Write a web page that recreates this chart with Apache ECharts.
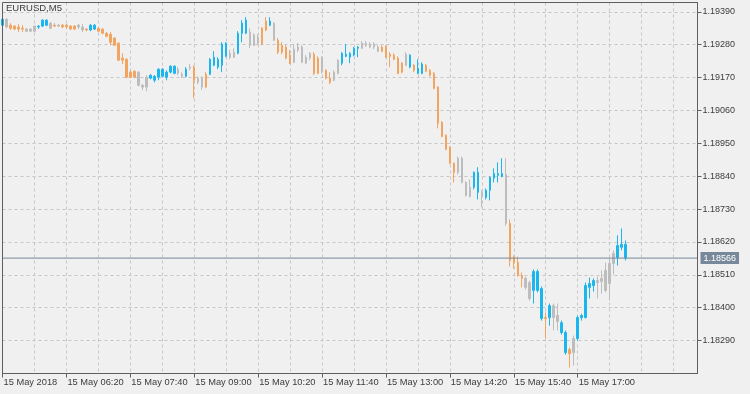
<!DOCTYPE html>
<html>
<head>
<meta charset="utf-8">
<script src="https://cdn.jsdelivr.net/npm/echarts@6/dist/echarts.min.js"></script>
<style>
html,body{margin:0;padding:0;background:#f0f0f0;}
#c{width:750px;height:394px;}
</style>
</head>
<body>
<div id="c"></div>
<script>
// ---- data (EURUSD M5, 15 May 2018, 05:00 .. 18:00) ----
const symbolTitle = 'EURUSD,M5';
const startTime = '05:00';
const barMinutes = 5;
const axisSlots = 175;

const tickTimes = ['05:00','06:20','07:40','09:00','10:20','11:40','13:00','14:20','15:40','17:00'];
const tickTexts = ['15 May 2018','15 May 06:20','15 May 07:40','15 May 09:00','15 May 10:20','15 May 11:40','15 May 13:00','15 May 14:20','15 May 15:40','15 May 17:00'];

const opens = [
1.19345,1.19365,1.19335,1.19342,1.19332,1.19335,1.19332,1.19325,1.19325,1.19342,
1.19342,1.19362,1.19352,1.19342,1.19345,1.19345,1.19339,1.19342,1.19332,1.19345,
1.19339,1.19329,1.19329,1.19345,1.19335,1.19332,1.19318,1.19315,1.19302,1.19285,
1.19228,1.19231,1.19171,1.19191,1.19188,1.19144,1.19138,1.19168,1.19174,1.19171,
1.19198,1.19171,1.19188,1.19208,1.19184,1.19181,1.19174,1.19201,1.19205,1.19154,
1.19168,1.19138,1.19181,1.19238,1.19205,1.19211,1.19285,1.19238,1.19255,1.19251,
1.19318,1.19362,1.19322,1.19278,1.19305,1.19282,1.19329,1.19359,1.19352,1.19295,
1.19255,1.19272,1.19245,1.19221,1.19262,1.19272,1.19218,1.19235,1.19248,1.19184,
1.19235,1.19194,1.19168,1.19161,1.19184,1.19218,1.19248,1.19238,1.19245,1.19268,
1.19268,1.19285,1.19282,1.19272,1.19272,1.19258,1.19272,1.19241,1.19245,1.19235,
1.19188,1.19211,1.19245,1.19211,1.19201,1.19184,1.19211,1.19194,1.19184,1.19138,
1.19020,1.18977,1.18937,1.18883,1.18853,1.18900,1.18819,1.18772,1.18803,1.18853,
1.18786,1.18769,1.18793,1.18833,1.18849,1.18839,1.18846,1.18682,1.18568,1.18551,
1.18508,1.18498,1.18484,1.18458,1.18521,1.18464,1.18364,1.18367,1.18407,1.18374,
1.18350,1.18317,1.18246,1.18250,1.18297,1.18367,1.18367,1.18468,1.18474,1.18491,
1.18488,1.18525,1.18481,1.18548,1.18568,1.18612,1.18612];

const closes = [
1.19365,1.19339,1.19345,1.19332,1.19339,1.19332,1.19325,1.19332,1.19342,1.19339,
1.19362,1.19345,1.19335,1.19345,1.19342,1.19339,1.19345,1.19332,1.19342,1.19339,
1.19329,1.19332,1.19345,1.19332,1.19325,1.19318,1.19308,1.19288,1.19278,1.19228,
1.19235,1.19171,1.19188,1.19171,1.19144,1.19138,1.19171,1.19178,1.19161,1.19198,
1.19174,1.19188,1.19208,1.19184,1.19198,1.19174,1.19198,1.19205,1.19161,1.19168,
1.19138,1.19181,1.19231,1.19211,1.19231,1.19282,1.19241,1.19251,1.19238,1.19318,
1.19352,1.19318,1.19278,1.19312,1.19285,1.19335,1.19359,1.19345,1.19295,1.19255,
1.19278,1.19235,1.19218,1.19265,1.19272,1.19221,1.19238,1.19251,1.19184,1.19235,
1.19188,1.19168,1.19154,1.19188,1.19228,1.19251,1.19241,1.19251,1.19268,1.19272,
1.19285,1.19278,1.19272,1.19282,1.19258,1.19272,1.19238,1.19248,1.19231,1.19184,
1.19218,1.19248,1.19205,1.19194,1.19184,1.19215,1.19191,1.19178,1.19134,1.19017,
1.18973,1.18930,1.18883,1.18853,1.18900,1.18819,1.18776,1.18803,1.18853,1.18786,
1.18776,1.18793,1.18836,1.18849,1.18843,1.18849,1.18682,1.18558,1.18551,1.18508,
1.18498,1.18468,1.18431,1.18521,1.18458,1.18364,1.18367,1.18407,1.18367,1.18354,
1.18317,1.18250,1.18260,1.18297,1.18367,1.18374,1.18474,1.18481,1.18491,1.18484,
1.18498,1.18458,1.18548,1.18581,1.18608,1.18602,1.18566];

const lows = [
1.19342,1.19335,1.19329,1.19329,1.19322,1.19322,1.19322,1.19322,1.19322,1.19332,
1.19339,1.19342,1.19332,1.19339,1.19339,1.19335,1.19335,1.19329,1.19329,1.19332,
1.19322,1.19325,1.19325,1.19329,1.19322,1.19315,1.19305,1.19278,1.19275,1.19225,
1.19215,1.19168,1.19168,1.19168,1.19141,1.19128,1.19124,1.19164,1.19154,1.19161,
1.19171,1.19161,1.19184,1.19181,1.19178,1.19168,1.19171,1.19194,1.19101,1.19148,
1.19128,1.19134,1.19178,1.19208,1.19198,1.19188,1.19238,1.19231,1.19235,1.19248,
1.19288,1.19315,1.19268,1.19275,1.19278,1.19278,1.19325,1.19342,1.19292,1.19248,
1.19248,1.19231,1.19215,1.19218,1.19255,1.19218,1.19215,1.19228,1.19178,1.19181,
1.19184,1.19164,1.19148,1.19158,1.19181,1.19211,1.19238,1.19218,1.19241,1.19238,
1.19265,1.19272,1.19268,1.19265,1.19255,1.19255,1.19235,1.19205,1.19228,1.19181,
1.19184,1.19208,1.19201,1.19188,1.19181,1.19181,1.19188,1.19174,1.19131,1.19000,
1.18970,1.18927,1.18880,1.18819,1.18846,1.18816,1.18772,1.18769,1.18796,1.18762,
1.18736,1.18762,1.18759,1.18819,1.18819,1.18836,1.18675,1.18538,1.18531,1.18504,
1.18468,1.18461,1.18424,1.18414,1.18451,1.18357,1.18297,1.18340,1.18324,1.18324,
1.18310,1.18243,1.18200,1.18206,1.18290,1.18357,1.18364,1.18431,1.18454,1.18431,
1.18447,1.18451,1.18424,1.18511,1.18541,1.18592,1.18558];

const highs = [
1.19372,1.19369,1.19352,1.19345,1.19349,1.19345,1.19335,1.19335,1.19345,1.19345,
1.19365,1.19365,1.19355,1.19352,1.19349,1.19349,1.19349,1.19345,1.19345,1.19349,
1.19349,1.19335,1.19349,1.19349,1.19339,1.19335,1.19322,1.19322,1.19305,1.19288,
1.19251,1.19235,1.19194,1.19194,1.19191,1.19148,1.19178,1.19181,1.19178,1.19201,
1.19201,1.19194,1.19211,1.19211,1.19205,1.19188,1.19205,1.19215,1.19211,1.19174,
1.19174,1.19188,1.19235,1.19258,1.19238,1.19288,1.19288,1.19262,1.19268,1.19325,
1.19362,1.19372,1.19335,1.19318,1.19315,1.19339,1.19372,1.19372,1.19355,1.19302,
1.19288,1.19278,1.19262,1.19282,1.19285,1.19278,1.19245,1.19255,1.19255,1.19241,
1.19241,1.19198,1.19188,1.19194,1.19231,1.19255,1.19282,1.19255,1.19272,1.19275,
1.19292,1.19292,1.19288,1.19288,1.19278,1.19278,1.19278,1.19255,1.19251,1.19241,
1.19221,1.19255,1.19248,1.19215,1.19231,1.19221,1.19215,1.19198,1.19188,1.19141,
1.19024,1.18980,1.18940,1.18886,1.18906,1.18906,1.18823,1.18829,1.18856,1.18870,
1.18793,1.18799,1.18839,1.18866,1.18886,1.18900,1.18900,1.18695,1.18575,1.18571,
1.18518,1.18504,1.18491,1.18528,1.18528,1.18471,1.18384,1.18414,1.18414,1.18414,
1.18357,1.18324,1.18267,1.18307,1.18374,1.18380,1.18484,1.18501,1.18498,1.18504,
1.18525,1.18551,1.18565,1.18592,1.18642,1.18665,1.18625];

// colour state of each bar: B = up (blue), O = down (orange), G = neutral (gray)
const barState = (
'BGOOOOGGGB'+'BBGOGOOOOG'+'GOBBOOOOOO'+'OOOOGGGBBB'+'BBBBGGBGOG'+
'GOBBBBBGGB'+'BBGGGOOBGO'+'OOOGGGGGOO'+'GOOGGBBBBB'+'GGGGGOOOOO'+
'OGBOBBOOOO'+'OOOOGGGGBB'+'GBBBBBGOOO'+'OGGBBBOBGG'+'BBOGBBBBBG'+'GGGGBBB').split('');

const yMin = 1.18180, yMax = 1.19421, yStep = 0.0011;

// ---- build ----
const stateColors = { B: '#1cb6ef', O: '#f3a461', G: '#bdbdbd' };
function pad(n){ return (n < 10 ? '0' : '') + n; }
const [sh, sm] = startTime.split(':').map(Number);
const categories = [];
for (let i = 0; i < axisSlots; i++) {
  const t = sh * 60 + sm + i * barMinutes;
  categories.push(pad(Math.floor(t / 60) % 24) + ':' + pad(t % 60));
}
const tickMap = {};
tickTimes.forEach((t, i) => { tickMap[t] = tickTexts[i]; });
const tickIdx = tickTimes.map(t => categories.indexOf(t));

const candleData = opens.map((o, i) => {
  const c = stateColors[barState[i]];
  return {
    value: [o, closes[i], lows[i], highs[i]],
    itemStyle: { color: c, color0: c, borderColor: c, borderColor0: c }
  };
});
const lastPrice = closes[closes.length - 1];
const font = 'Liberation Sans, Arial, sans-serif';
const frameColor = '#5f5f5f';
const priceLineColor = '#76889a';

const G = { left: 2.5, top: 2.5, right: 52.5, bottom: 20.5 };

const chart = echarts.init(document.getElementById('c'), null, { renderer: 'canvas' });
chart.setOption({
  animation: false,
  backgroundColor: '#f0f0f0',
  title: {
    text: symbolTitle, left: 6, top: 3, padding: 0,
    textStyle: { fontSize: 9.5, fontWeight: 'normal', color: '#3c3c3c', fontFamily: font }
  },
  grid: Object.assign({ show: false }, G),
  graphic: [{
    type: 'rect', silent: true, z: 100,
    shape: { x: G.left, y: G.top, width: 750 - G.left - G.right, height: 394 - G.top - G.bottom },
    style: { fill: 'none', stroke: frameColor, lineWidth: 1 }
  }],
  xAxis: {
    type: 'category',
    data: categories,
    boundaryGap: false,
    axisLine: { show: true, lineStyle: { color: frameColor, width: 1 } },
    axisTick: {
      show: true, length: 4, inside: false,
      interval: (i) => tickIdx.indexOf(i) >= 0,
      lineStyle: { color: frameColor }
    },
    axisLabel: {
      show: true,
      interval: (i) => tickIdx.indexOf(i) >= 0,
      formatter: (v) => tickMap[v] || '',
      align: 'left', margin: 4, padding: [0, 0, 0, 1],
      color: '#3c3c3c', fontSize: 9.3, fontFamily: font
    },
    splitLine: {
      show: true,
      interval: (i) => i % 8 === 0 && i > 0,
      lineStyle: { color: '#c6c6c6', type: [3, 3], width: 1 }
    }
  },
  yAxis: {
    type: 'value',
    position: 'right',
    min: yMin, max: yMax, interval: yStep,
    axisLine: { show: true, lineStyle: { color: frameColor, width: 1 } },
    axisTick: { show: true, length: 4, inside: false, lineStyle: { color: frameColor } },
    axisLabel: {
      show: true, margin: 5, showMinLabel: false, showMaxLabel: false,
      formatter: (v) => v.toFixed(5),
      color: '#3c3c3c', fontSize: 9, fontFamily: font
    },
    splitLine: { show: true, lineStyle: { color: '#c6c6c6', type: [3, 3], width: 1 } }
  },
  series: [{
    type: 'candlestick',
    data: candleData,
    barWidth: 2,
    itemStyle: { borderWidth: 1 }
  }, {
    type: 'line',
    silent: true,
    clip: false,
    symbol: 'none',
    z: 3,
    data: [[categories[0], lastPrice], [categories[categories.length - 1], lastPrice]],
    lineStyle: { color: priceLineColor, width: 1, type: 'solid' },
    endLabel: {
      show: true, distance: 3,
      formatter: () => lastPrice.toFixed(5),
      backgroundColor: priceLineColor, color: '#ffffff',
      padding: [2, 3, 1, 3], fontSize: 9, fontFamily: font
    }
  }]
});
</script>
</body>
</html>
